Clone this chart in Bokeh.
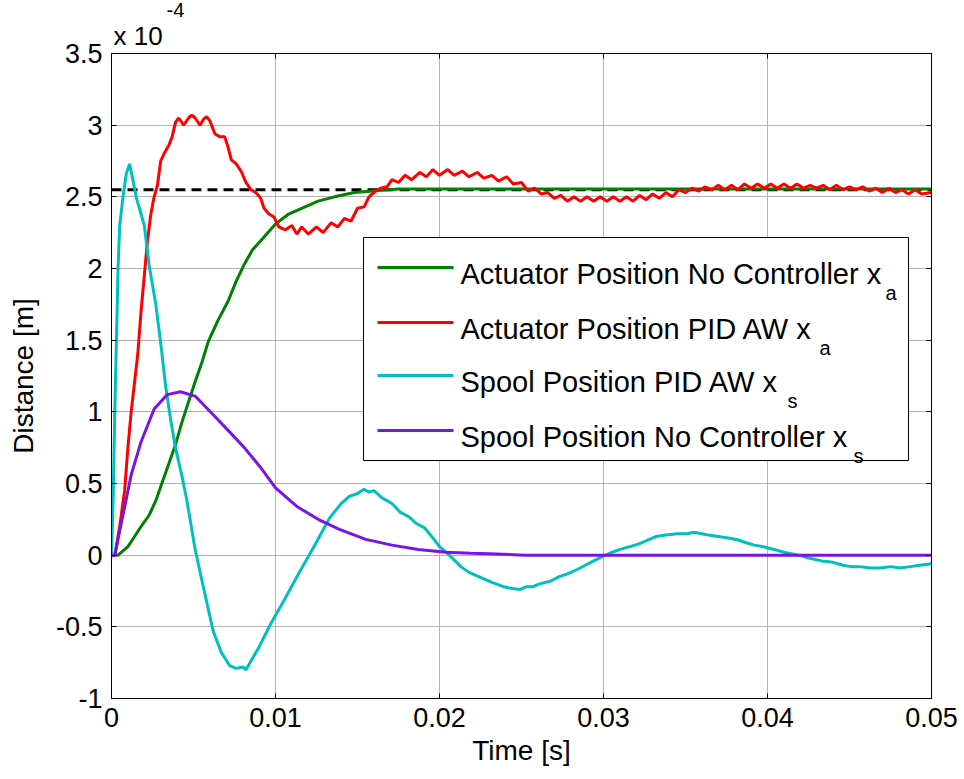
import numpy as np
from bokeh.plotting import figure
from bokeh.models import (Range1d, FixedTicker, LinearAxis, Label, BoxAnnotation,
                          Span, CustomJSTickFormatter, Title)
from bokeh.embed import file_html
from bokeh.resources import INLINE

# ---------------- data (time in ms, distance in 1e-4 m) ----------------
t_green = [0, 0.4, 1.0, 1.35, 1.8, 2.3, 2.7, 3.1, 3.5, 3.9, 4.3, 4.7, 5.1, 5.5, 5.9,
           6.5, 7.1, 7.6, 8.1, 8.6, 9.3, 10.0, 10.8, 11.6, 12.6, 13.6, 14.8, 16.3,
           17.5, 50.0]
v_green = [0, 0.0, 0.06, 0.12, 0.2, 0.28, 0.38, 0.51, 0.64, 0.77, 0.93, 1.07, 1.21,
           1.34, 1.49, 1.64, 1.77, 1.91, 2.03, 2.13, 2.22, 2.31, 2.38, 2.42, 2.47,
           2.50, 2.53, 2.545, 2.555, 2.555]

t_red = [0.0, 0.2, 0.5, 0.8, 1.0, 1.2, 1.4, 1.6, 1.8, 2.0, 2.2, 2.4, 2.6, 2.8, 3.0,
         3.2, 3.5, 3.7, 3.9, 4.1, 4.4, 4.7, 4.9, 5.1, 5.4, 5.6, 5.8, 6.0, 6.3, 6.6,
         6.9, 7.1, 7.3, 7.6, 7.9, 8.2, 8.5, 8.8, 9.1, 9.3, 9.6, 9.9, 10.2, 10.6,
         11.0, 11.3, 11.6, 12.0, 12.5, 12.9, 13.4, 13.8, 14.2, 14.6, 15.0, 15.4,
         15.7, 16.1, 16.4, 16.8, 17.1, 17.5, 17.9, 18.3, 18.8, 19.2, 19.6, 20.0,
         20.5, 20.9, 21.4, 21.8, 22.3, 22.7, 23.2, 23.6, 24.1, 24.5, 25.0, 25.4,
         25.8, 26.2, 26.6, 27.0, 27.4, 27.8, 28.2, 28.6, 29.0, 29.4, 29.8, 30.2,
         30.6, 31.0, 31.4, 31.8, 32.2, 32.6, 33.0, 33.4, 33.8, 34.2, 34.6, 35.0,
         35.4, 35.8, 36.2, 36.6, 37.0, 37.4, 37.8, 38.2, 38.6, 39.0, 39.4, 39.8,
         40.2, 40.6, 41.0, 41.4, 41.8, 42.2, 42.6, 43.0, 43.4, 43.8, 44.2, 44.6,
         45.0, 45.4, 45.8, 46.2, 46.6, 47.0, 47.4, 47.8, 48.2, 48.6, 49.0, 49.4,
         50.0]
v_red = [0.0, 0.0, 0.2, 0.45, 0.75, 1.0, 1.2, 1.4, 1.7, 1.95, 2.2, 2.38, 2.5, 2.58,
         2.75, 2.8, 2.86, 2.92, 3.02, 3.05, 3.0, 3.05, 3.07, 3.05, 3.0, 3.04, 3.06,
         3.03, 2.94, 2.92, 2.92, 2.85, 2.76, 2.73, 2.68, 2.60, 2.55, 2.53, 2.49,
         2.42, 2.38, 2.36, 2.29, 2.27, 2.30, 2.24, 2.29, 2.24, 2.29, 2.25, 2.32,
         2.29, 2.35, 2.33, 2.42, 2.43, 2.50, 2.54, 2.56, 2.57, 2.62, 2.60, 2.65,
         2.62, 2.67, 2.64, 2.69, 2.65, 2.69, 2.65, 2.68, 2.64, 2.67, 2.63, 2.65,
         2.61, 2.64, 2.59, 2.60, 2.54, 2.56, 2.52, 2.53, 2.49, 2.51, 2.47, 2.50,
         2.47, 2.50, 2.47, 2.50, 2.47, 2.50, 2.47, 2.50, 2.47, 2.51, 2.48, 2.52,
         2.49, 2.53, 2.50, 2.55, 2.53, 2.56, 2.54, 2.57, 2.55, 2.58, 2.55, 2.58,
         2.55, 2.59, 2.56, 2.59, 2.56, 2.59, 2.56, 2.59, 2.56, 2.59, 2.56, 2.58,
         2.56, 2.58, 2.55, 2.58, 2.55, 2.57, 2.55, 2.57, 2.54, 2.56, 2.53, 2.56,
         2.53, 2.55, 2.52, 2.55, 2.52, 2.53]

t_cyan = [0, 0.1, 0.2, 0.3, 0.4, 0.5, 0.7, 0.9, 1.1, 1.3, 1.5, 1.8, 2.0, 2.3, 2.7,
          3.0, 3.3, 3.6, 3.9, 4.3, 4.6, 5.1, 5.5, 6.2, 6.7, 7.2, 7.6, 8.0, 8.2, 8.6,
          9.0, 9.7, 10.5, 11.5, 12.3, 13.3, 14.0, 14.5, 15.0, 15.4, 15.7, 16.0,
          16.5, 17.1, 17.6, 18.1, 18.6, 19.1, 19.6, 20.0, 20.6, 21.3, 21.8, 22.6,
          23.2, 23.9, 24.3, 24.9, 25.3, 25.7, 26.1, 26.8, 27.3, 27.8, 28.4, 29.4,
          30.3, 31.0, 31.6, 32.2, 32.8, 33.2, 33.8, 34.5, 35.1, 35.5, 36.0, 36.4,
          37.0, 37.6, 38.1, 38.6, 39.2, 39.7, 40.4, 41.0, 41.9, 42.5, 43.3, 44.0,
          44.6, 45.1, 45.6, 46.3, 46.9, 47.5, 48.1, 48.7, 49.3, 50.0]
v_cyan = [0, 0.4, 1.0, 1.5, 2.0, 2.3, 2.5, 2.66, 2.73, 2.62, 2.5, 2.38, 2.3, 2.02,
          1.75, 1.48, 1.18, 0.95, 0.75, 0.55, 0.38, 0.04, -0.17, -0.53, -0.68,
          -0.77, -0.79, -0.78, -0.80, -0.72, -0.64, -0.48, -0.32, -0.11, 0.05, 0.26,
          0.36, 0.41, 0.43, 0.46, 0.44, 0.45, 0.40, 0.36, 0.30, 0.27, 0.22, 0.19,
          0.12, 0.06, 0.0, -0.08, -0.12, -0.16, -0.19, -0.22, -0.23, -0.24, -0.22,
          -0.22, -0.20, -0.18, -0.15, -0.13, -0.10, -0.04, 0.01, 0.04, 0.06, 0.08,
          0.11, 0.13, 0.14, 0.15, 0.15, 0.16, 0.15, 0.14, 0.13, 0.12, 0.11, 0.09,
          0.07, 0.06, 0.04, 0.02, 0.0, -0.02, -0.04, -0.05, -0.07, -0.08, -0.08,
          -0.09, -0.09, -0.08, -0.09, -0.08, -0.07, -0.06]

t_purple = [0, 0.2, 0.7, 1.2, 1.8, 2.6, 3.4, 4.2, 5.1, 6.2, 7.2, 8.1, 9.1, 10.0,
            11.3, 12.6, 13.9, 15.5, 17.1, 18.7, 20.4, 21.9, 23.0, 25.2, 50.0]
v_purple = [0, 0.0, 0.28, 0.56, 0.79, 1.02, 1.12, 1.14, 1.11, 0.98, 0.86, 0.75,
            0.61, 0.47, 0.34, 0.25, 0.18, 0.11, 0.07, 0.04, 0.02, 0.013, 0.01, 0.0,
            0.0]

reference_level = 2.55  # setpoint (1e-4 m)

series_labels = ["Actuator Position No Controller x", "Actuator Position PID AW x",
                 "Spool Position PID AW x", "Spool Position No Controller x"]
series_subs = ["a", "a", "s", "s"]
series_colors = ["#008000", "#ff0000", "#00bfbf", "#7a14e6"]

x_ticks = [0, 0.01, 0.02, 0.03, 0.04, 0.05]
y_ticks = [-1, -0.5, 0, 0.5, 1, 1.5, 2, 2.5, 3, 3.5]

# ---------------- layout ----------------
FONT = "Liberation Sans"
W, H = 964, 779
FL, FR, FT, FB = 111, 931, 53, 698  # frame edges in pixels


def px_x(px):
    return (px - FL) / (FR - FL) * 0.05


def px_y(py):
    return -1 + (FB - py) / (FB - FT) * 4.5


p = figure(width=W, height=H, output_backend="svg", toolbar_location=None,
           x_range=Range1d(0, 0.05), y_range=Range1d(-1, 3.5),
           min_border_left=FL, min_border_right=W - FR, min_border_top=FT,
           min_border_bottom=H - FB,
           x_axis_label="Time [s]", y_axis_label="Distance [m]")
p.background_fill_color = "white"
p.border_fill_color = "white"
p.outline_line_color = "black"
p.outline_line_width = 1

for ax, ticks in ((p.xaxis[0], x_ticks), (p.yaxis[0], y_ticks)):
    ax.ticker = FixedTicker(ticks=ticks)
    ax.major_tick_in = 5
    ax.major_tick_out = 0
    ax.minor_tick_line_color = None
    ax.axis_line_color = "black"
    ax.major_tick_line_color = "black"
    ax.major_label_text_font = FONT
    ax.major_label_text_font_size = "27px"
    ax.major_label_text_color = "black"
    ax.axis_label_text_font = FONT
    ax.axis_label_text_font_size = "28px"
    ax.axis_label_text_font_style = "normal"
    ax.axis_label_text_color = "black"

p.xaxis[0].formatter = CustomJSTickFormatter(
    code="return tick == 0 ? '0' : tick.toFixed(2);")
p.yaxis[0].formatter = CustomJSTickFormatter(
    code="return String(Math.round(tick * 10) / 10);")
p.xaxis[0].major_label_standoff = 9
p.xaxis[0].axis_label_standoff = 5
p.yaxis[0].major_label_standoff = 9
p.yaxis[0].axis_label_standoff = 14

# box axes (top / right) with inward ticks and no labels
for loc, ticks in (("above", x_ticks), ("right", y_ticks)):
    ax = LinearAxis(ticker=FixedTicker(ticks=ticks), major_tick_in=5, major_tick_out=0,
                    minor_tick_line_color=None, major_label_text_color=None,
                    major_label_text_font_size="6px", major_label_standoff=0,
                    axis_line_color="black", major_tick_line_color="black")
    p.add_layout(ax, loc)

# exponent annotation above the frame
p.add_layout(Title(text="x 10", align="left", offset=2, standoff=5,
                   text_font=FONT, text_font_size="26px", text_font_style="normal",
                   text_color="black"), "above")
p.add_layout(Title(text="-4", align="left", offset=55, standoff=0,
                   text_font=FONT, text_font_size="20px", text_font_style="normal",
                   text_color="black"), "above")

for g in (p.xgrid[0], p.ygrid[0]):
    g.grid_line_color = "#b4b4b4"
    g.grid_line_width = 1
p.xgrid[0].ticker = FixedTicker(ticks=x_ticks)
p.ygrid[0].ticker = FixedTicker(ticks=y_ticks)

ref = Span(location=reference_level, dimension="width", line_color="black",
           line_width=3, line_dash="10 6", level="underlay")
p.add_layout(ref)

series = [(t_green, v_green), (t_red, v_red), (t_cyan, v_cyan), (t_purple, v_purple)]
for (t, v), c in zip(series, series_colors):
    p.line(np.array(t) / 1000.0, v, line_color=c, line_width=3)

# ---------------- legend (drawn as annotations) ----------------
p.add_layout(BoxAnnotation(left=px_x(363), right=px_x(908), top=px_y(237),
                           bottom=px_y(460), fill_color="white", fill_alpha=1,
                           line_color="black", line_width=1, line_alpha=1))
rows = [267, 322, 375, 430]
sub_x = [885, 819, 787, 853]
for r, lab, sub, c, sx in zip(rows, series_labels, series_subs, series_colors, sub_x):
    p.add_layout(BoxAnnotation(left=px_x(377), right=px_x(453), top=px_y(r - 1.5),
                               bottom=px_y(r + 1.5), fill_color=c, fill_alpha=1,
                               line_color=None))
    p.add_layout(Label(x=px_x(460), y=px_y(r + 6), text=lab, text_font=FONT,
                       text_font_size="29px", text_color="black",
                       text_baseline="alphabetic", text_align="left"))
    p.add_layout(Label(x=px_x(sx), y=px_y(r + 25), text=sub, text_font=FONT,
                       text_font_size="20px", text_color="black",
                       text_baseline="alphabetic", text_align="left"))

open("out.html", "w").write(file_html(p, INLINE))
